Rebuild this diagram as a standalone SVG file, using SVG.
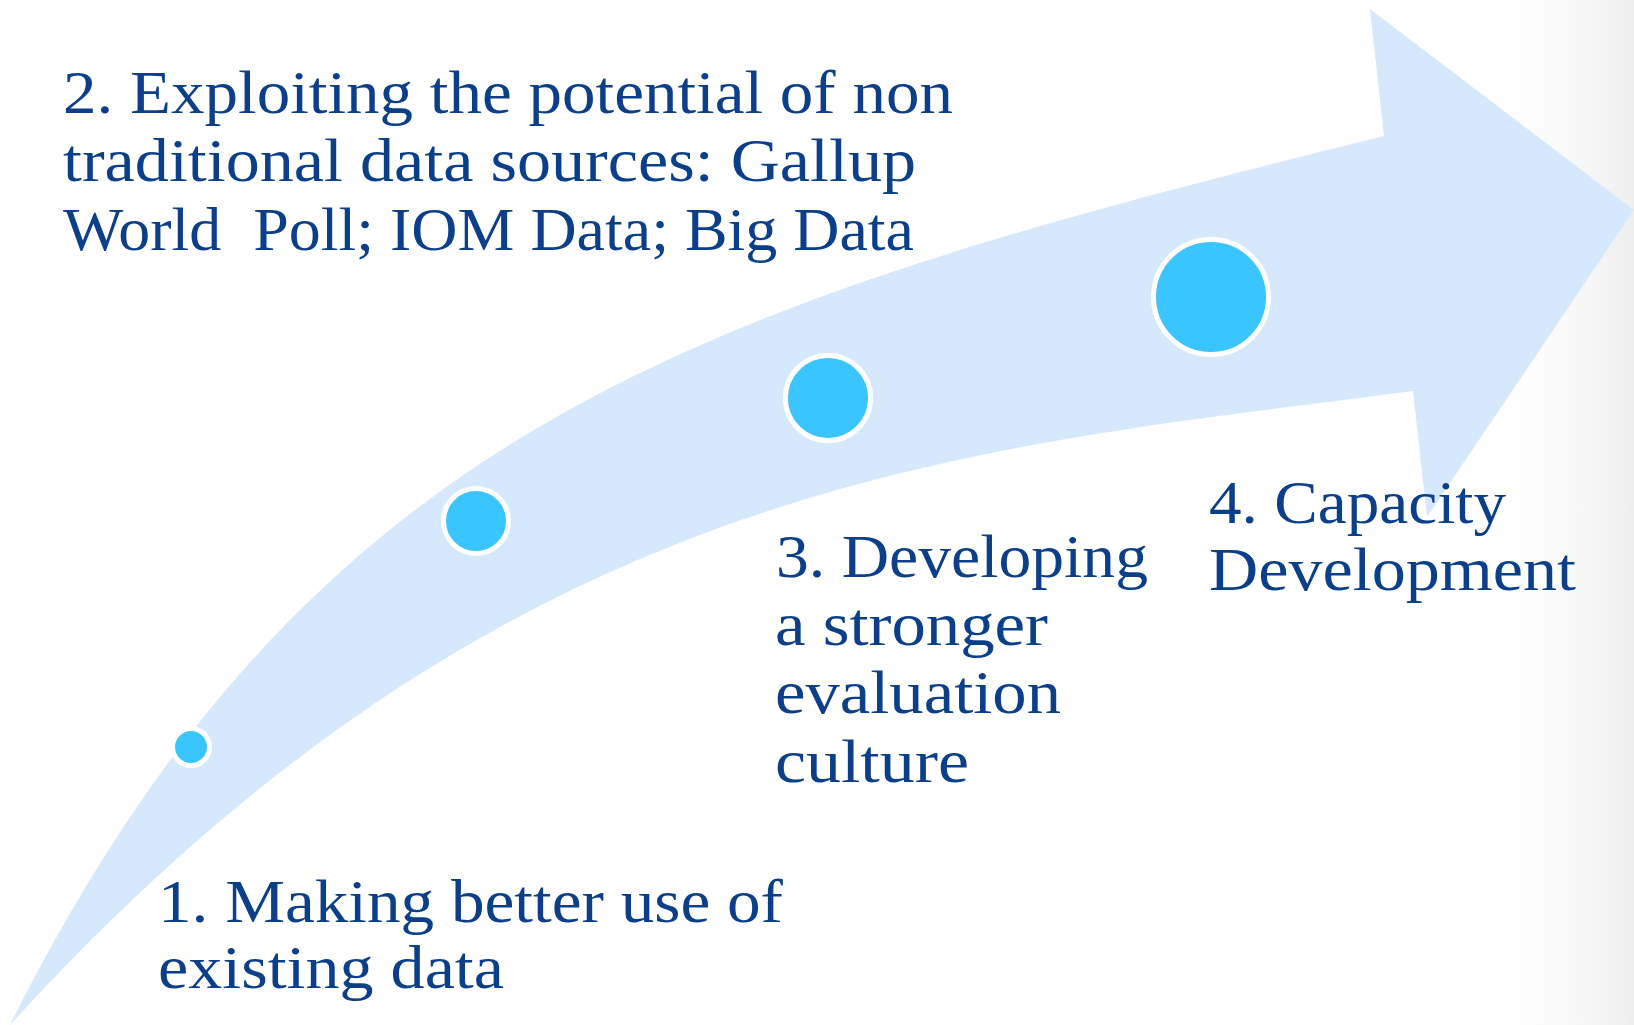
<svg xmlns="http://www.w3.org/2000/svg" width="1634" height="1025" viewBox="0 0 1634 1025">
  <defs>
    <linearGradient id="edgeShade" x1="0" y1="0" x2="1" y2="0">
      <stop offset="0" stop-color="#ffffff" stop-opacity="0"/>
      <stop offset="1" stop-color="#eeeeee" stop-opacity="1"/>
    </linearGradient>
  </defs>
  <style>
    .label { font-family: "Liberation Serif", "DejaVu Serif", serif; font-size: 62px; fill: #0b3f8a; white-space: pre; }
    .dot { fill: #3bc5fe; stroke: #ffffff; stroke-width: 5; }
    .band { fill: #d6e9fc; }
  </style>

  <!-- page background with a soft shade toward the right edge -->
  <rect x="0" y="0" width="1634" height="1025" fill="#ffffff"/>
  <rect x="1470" y="0" width="164" height="1025" fill="url(#edgeShade)"/>

  <!-- curved rising arrow: upper edge from the tail, head, then lower edge back to the tail -->
  <g id="connectors">
    <path id="arrow" class="band" d="M 10,1025
      C 310,425 700,305 1384,136
      L 1370,9 L 1634,210 L 1427,517 L 1413,391
      C 963,450 510,475 10,1025 Z"/>
  </g>

  <!-- step 1 -->
  <g id="step-1">
    <circle class="dot" cx="191" cy="747" r="18.5"/>
    <text class="label" x="158" y="922" textLength="625" lengthAdjust="spacingAndGlyphs">1. Making better use of</text>
    <text class="label" x="158" y="988" textLength="346" lengthAdjust="spacingAndGlyphs">existing data</text>
  </g>

  <!-- step 2 -->
  <g id="step-2">
    <circle class="dot" cx="476" cy="521" r="32.5"/>
    <text class="label" x="63" y="113" textLength="890" lengthAdjust="spacingAndGlyphs">2. Exploiting the potential of non</text>
    <text class="label" x="63" y="181" textLength="853" lengthAdjust="spacingAndGlyphs">traditional data sources: Gallup</text>
    <text class="label" x="63" y="250" textLength="851" lengthAdjust="spacingAndGlyphs">World  Poll; IOM Data; Big Data</text>
  </g>

  <!-- step 3 -->
  <g id="step-3">
    <circle class="dot" cx="828" cy="398" r="42.6"/>
    <text class="label" x="776" y="577" textLength="372" lengthAdjust="spacingAndGlyphs">3. Developing</text>
    <text class="label" x="775" y="645" textLength="273" lengthAdjust="spacingAndGlyphs">a stronger</text>
    <text class="label" x="775" y="713" textLength="286" lengthAdjust="spacingAndGlyphs">evaluation</text>
    <text class="label" x="775" y="782" textLength="194" lengthAdjust="spacingAndGlyphs">culture</text>
  </g>

  <!-- step 4 -->
  <g id="step-4">
    <circle class="dot" cx="1211" cy="297" r="57.5"/>
    <text class="label" x="1209" y="523" textLength="297" lengthAdjust="spacingAndGlyphs">4. Capacity</text>
    <text class="label" x="1209" y="590" textLength="367" lengthAdjust="spacingAndGlyphs">Development</text>
  </g>
</svg>
